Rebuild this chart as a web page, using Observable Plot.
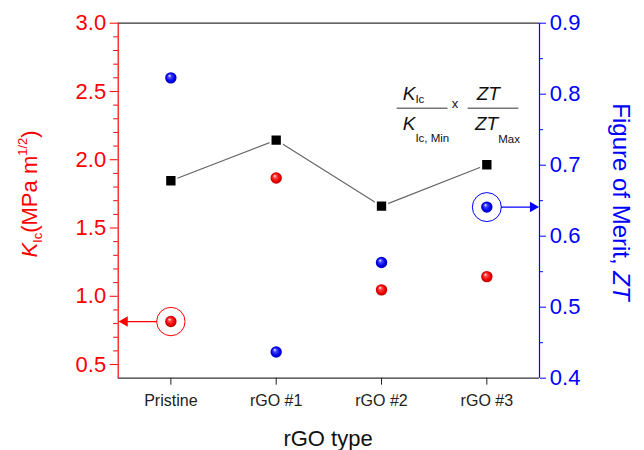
<!DOCTYPE html>
<html><head><meta charset="utf-8">
<script src="https://cdn.jsdelivr.net/npm/d3@7"></script>
<script src="https://cdn.jsdelivr.net/npm/@observablehq/plot@0.6"></script>
<style>
body{margin:0;background:#fff;font-family:"Liberation Sans",Arial,sans-serif}
</style>
</head><body>
<svg width="0" height="0" style="position:absolute"><defs>
<radialGradient id="ballRed" cx="0.5" cy="0.5" r="0.5" fx="0.36" fy="0.3">
 <stop offset="0" stop-color="#ffffff"/><stop offset="0.28" stop-color="#ff4a4a"/><stop offset="0.7" stop-color="#f00000"/><stop offset="1" stop-color="#b80000"/>
</radialGradient>
<radialGradient id="ballBlue" cx="0.5" cy="0.5" r="0.5" fx="0.36" fy="0.3">
 <stop offset="0" stop-color="#ffffff"/><stop offset="0.28" stop-color="#4a4aff"/><stop offset="0.7" stop-color="#0000f0"/><stop offset="1" stop-color="#0000b0"/>
</radialGradient>
</defs></svg>
<div id="chart"></div>
<script>
// ---- data ----
const categories = ["Pristine", "rGO #1", "rGO #2", "rGO #3"];
const kicValues = [0.815, 1.866, 1.047, 1.144];      // K_Ic (MPa m^1/2), left axis
const ztValues = [0.823, 0.437, 0.563, 0.641];       // ZT, right axis
const meritValues = [1.846, 2.144, 1.66, 1.963];     // (K/Kmin)x(ZT/ZTmax), left axis
const kicTicks = [0.5, 1.0, 1.5, 2.0, 2.5, 3.0];
const ztTicks = [0.4, 0.5, 0.6, 0.7, 0.8, 0.9];
const kicDomain = [0.4, 3.0];
const ztDomain = [0.4, 0.9];
const kicHighlight = "Pristine";
const ztHighlight = "rGO #3";

// ---- scales helpers ----
const k = (kicDomain[1] - kicDomain[0]) / (ztDomain[1] - ztDomain[0]);
const toLeft = v => kicDomain[0] + (v - ztDomain[0]) * k;
const fromLeft = v => ztDomain[0] + (v - kicDomain[0]) / k;
const kicMinor = d3.range(5, 30).map(d => d / 10).filter(d => Math.round(d * 10) % 5 !== 0);
const ztMinor = d3.range(9, 18).map(d => d / 20).filter(d => Math.round(d * 20) % 2 !== 0).map(toLeft);

const rows = categories.map((c, i) => ({
  i, c, kic: kicValues[i], zt: toLeft(ztValues[i]), merit: meritValues[i]
}));
const xLeft = -0.5, xRight = categories.length - 0.5;
const RED = "#ff0000", BLUE = "#0000ff";

const svg = Plot.plot({
  width: 644, height: 450,
  marginLeft: 117.7, marginRight: 105, marginTop: 22.7, marginBottom: 72.3,
  style: {fontFamily: '"Liberation Sans", Arial, sans-serif', background: "#fff", overflow: "visible"},
  x: {type: "linear", domain: [xLeft, xRight]},
  y: {domain: kicDomain},
  marks: [
    Plot.axisX({ticks: d3.range(categories.length), tickFormat: i => categories[i], tickSize: 7, tickPadding: 9, fontSize: 16, color: "#222", label: null}),
    Plot.axisY({anchor: "left", ticks: kicTicks, tickFormat: d3.format(".1f"), tickSize: 8, tickPadding: 4, fontSize: 22, color: RED, label: null}),
    Plot.axisY({anchor: "left", ticks: kicMinor, tickFormat: () => "", tickSize: 4.5, color: RED, label: null}),
    Plot.axisY({anchor: "right", ticks: ztTicks.map(toLeft), tickFormat: d => fromLeft(d).toFixed(1), tickSize: 6, tickPadding: 4.3, fontSize: 22, color: BLUE, label: null}),
    Plot.axisY({anchor: "right", ticks: ztMinor, tickFormat: () => "", tickSize: 3, color: BLUE, label: null}),
    Plot.ruleY([kicDomain[0], kicDomain[1]], {stroke: "#333", strokeWidth: 1.2}),
    Plot.ruleX([xLeft], {stroke: RED, strokeWidth: 1.2}),
    Plot.ruleX([xRight], {stroke: BLUE, strokeWidth: 1.2}),
    // merit line + squares
    Plot.line(rows, {x: "i", y: "merit", stroke: "#666", strokeWidth: 1.2}),
    Plot.dot(rows, {x: "i", y: "merit", symbol: "square", r: 6.4, fill: "#000", stroke: "#fff", strokeWidth: 2}),
    // balls
    Plot.dot(rows, {x: "i", y: "kic", r: 5.7, fill: "url(#ballRed)"}),
    Plot.dot(rows, {x: "i", y: "zt", r: 5.7, fill: "url(#ballBlue)"}),
    // highlights
    Plot.dot(rows.filter(d => d.c === kicHighlight), {x: "i", y: "kic", r: 14.2, fill: "none", stroke: RED, strokeWidth: 1}),
    Plot.arrow(rows.filter(d => d.c === kicHighlight), {x1: "i", y1: "kic", x2: () => xLeft, y2: "kic", insetStart: 14.2, insetEnd: 6, headLength: 0, stroke: RED, strokeWidth: 1.3}),
    Plot.dot(rows.filter(d => d.c === kicHighlight), {x: () => xLeft, y: "kic", symbol: "triangle", r: 3.9, rotate: -90, dx: 6.5, fill: RED}),
    Plot.dot(rows.filter(d => d.c === ztHighlight), {x: "i", y: "zt", r: 14.5, fill: "none", stroke: BLUE, strokeWidth: 1}),
    Plot.arrow(rows.filter(d => d.c === ztHighlight), {x1: "i", y1: "zt", x2: () => xRight, y2: "zt", insetStart: 14.5, insetEnd: 6, headLength: 0, stroke: BLUE, strokeWidth: 1.3}),
    Plot.dot(rows.filter(d => d.c === ztHighlight), {x: () => xRight, y: "zt", symbol: "triangle", r: 3.9, rotate: 90, dx: -6.5, fill: BLUE})
  ]
});

const s = d3.select(svg);
const FF = '"Liberation Sans", Arial, sans-serif';

// x title
s.append("text").attr("x", 328).attr("y", 446).attr("text-anchor", "middle")
  .attr("font-size", 22).attr("fill", "#111").attr("font-family", FF).text("rGO type");

// left title
const lt = s.append("text").attr("transform", "translate(37,194) rotate(-90)")
  .attr("text-anchor", "middle").attr("font-size", 22).attr("fill", RED).attr("font-family", FF);
lt.append("tspan").attr("font-style", "italic").text("K");
lt.append("tspan").attr("font-size", 13).attr("dy", 5).text("Ic");
lt.append("tspan").attr("dy", -5).text("(MPa m");
lt.append("tspan").attr("font-size", 13).attr("dy", -10).text("1/2");
lt.append("tspan").attr("dy", 10).text(")");

// right title
const rt = s.append("text").attr("transform", "translate(613,202) rotate(90)")
  .attr("text-anchor", "middle").attr("font-size", 24).attr("fill", BLUE).attr("font-family", FF);
rt.append("tspan").text("Figure of Merit, ");
rt.append("tspan").attr("font-style", "italic").text("ZT");

// formula annotation
const f = s.append("g").attr("font-family", FF).attr("fill", "#111").attr("text-anchor", "start");
function frac(x, y, parts) {
  const t = f.append("text").attr("x", x).attr("y", y).attr("font-size", 19).attr("text-anchor", "start");
  parts.forEach(p => {
    const ts = t.append("tspan").text(p.t);
    if (p.it) ts.attr("font-style", "italic");
    if (p.fs) ts.attr("font-size", p.fs);
    if (p.dy) ts.attr("dy", p.dy);
  });
}
frac(402.7, 100, [{t: "K", it: true}, {t: "Ic", fs: 11.5, dy: 3.3}]);
frac(402.7, 130, [{t: "K", it: true}, {t: "Ic, Min", fs: 11.5, dy: 11.5}]);
frac(476.7, 100, [{t: "ZT", it: true}]);
frac(475, 130, [{t: "ZT", it: true}, {t: "Max", fs: 11.5, dy: 12.5}]);
f.append("text").attr("x", 451.7).attr("y", 108.3).attr("font-size", 13).attr("text-anchor", "start").text("x");
f.append("line").attr("x1", 396.7).attr("x2", 447.5).attr("y1", 108.3).attr("y2", 108.3).attr("stroke", "#777").attr("stroke-width", 1.4);
f.append("line").attr("x1", 467.7).attr("x2", 518.3).attr("y1", 108.3).attr("y2", 108.3).attr("stroke", "#777").attr("stroke-width", 1.4);

document.getElementById("chart").appendChild(svg);
</script>
</body></html>
